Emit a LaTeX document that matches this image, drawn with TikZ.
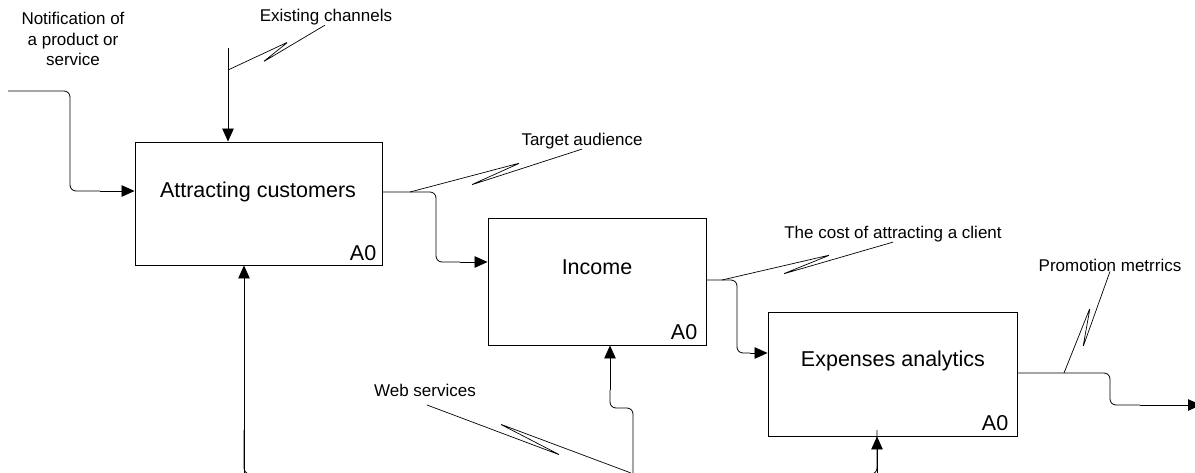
\documentclass[tikz,border=0pt]{standalone}
\usepackage{fontspec}
\setmainfont{Liberation Sans}
\usetikzlibrary{arrows.meta,calc}
\begin{document}
\begin{tikzpicture}[x=1pt,y=-1pt,
  proc/.style={draw,line width=0.9pt,inner sep=0pt},
  boxtext/.style={font=\fontsize{21.5}{26}\selectfont,inner sep=0pt},
  tag/.style={font=\fontsize{21.5}{26}\selectfont,inner sep=0pt,anchor=base east},
  lbl/.style={font=\fontsize{17}{20.5}\selectfont,inner sep=0pt,align=center},
  line/.style={draw,line width=0.8pt,rounded corners=6pt},
  arr/.style={draw,line width=0.8pt,sharp corners,-{Triangle[length=13pt,width=11.5pt]}},
  squig/.style={draw,line width=0.7pt,rounded corners=1.5pt}]
\useasboundingbox (0,0) rectangle (1195,472);
\clip (0,0) rectangle (1195,472);
% boxes
\node[proc,minimum width=247pt,minimum height=123pt] (b1) at (258.5,203.5) {};
\node[proc,minimum width=218pt,minimum height=127pt] (b2) at (597,281.5) {};
\node[proc,minimum width=249pt,minimum height=124pt] (b3) at (892.5,374) {};
\node[boxtext] (t1) at (258,192) {Attracting customers};
\node[boxtext] (t2) at (597,267) {Income};
\node[boxtext] (t3) at (893,361) {Expenses analytics};
\node[tag] (a1) at ([xshift=-6pt,yshift=5pt]b1.south east) {A0};
\node[tag] (a2) at ([xshift=-9pt,yshift=6pt]b2.south east) {A0};
\node[tag] (a3) at ([xshift=-9pt,yshift=6pt]b3.south east) {A0};
% labels
\node[lbl] (lin) at (73,39) {Notification of\\a product or\\service};
\node[lbl] (lctl) at (326,17) {Existing channels};
\node[lbl] (lta) at (582,141) {Target audience};
\node[lbl] (lcost) at (893,234) {The cost of attracting a client};
\node[lbl] (lpm) at (1110,265) {Promotion metrrics};
\node[lbl] (lweb) at (425,390) {Web services};
% input
\coordinate (in0) at (8,91);
\coordinate (in1) at (100,191);
\draw[line] (in0) -- (70,91) -- (70,191) -- (in1);
\draw[arr] (in1) -- (b1.west |- in1);
% control
\coordinate (c0) at (228,48);
\draw[arr] (c0) -- (b1.north -| c0);
% outputs
\coordinate (o1) at (460,262);
\draw[line] (b1.east |- 0,192) -- (436,192) -- (436,262) -- (o1);
\draw[arr] (o1) -- (b2.west |- o1);
\coordinate (o2) at (750,353);
\draw[line] (b2.east |- 0,280) -- (737,280) -- (737,353) -- (o2);
\draw[arr] (o2) -- (b3.west |- o2);
\coordinate (o3) at (1140,405);
\coordinate (out3) at (1201,405);
\draw[line] (b3.east |- 0,373) -- (1110,373) -- (1110,405) -- (o3);
\draw[arr] (o3) -- (out3);
% mechanisms
\coordinate (m1) at (244,474);
\coordinate (m2) at (633,474);
\coordinate (m3) at (877,474);
\draw[arr] (m1) -- (b1.south -| m1);
\draw[arr] (m3) -- (b3.south -| m3);
\draw[line] (244,430) -- (m1) -- (m3) -- (877,430);
\coordinate (m2b) at (610,390);
\draw[line] (m2) -- (633,408) -- (610,408) -- (m2b);
\draw[arr] (m2b) -- (b2.south -| m2b);
% squiggles
\coordinate (s1) at (228,70);
\draw[squig] (s1) -- (288,42) -- (263,62) -- (lctl.south -| 325,0);
\coordinate (s2) at (410,192);
\draw[squig] (s2) -- (520,163) -- (471,185) -- (lta.south);
\coordinate (s3) at (722,280);
\draw[squig] (s3) -- (830,255) -- (783,274) -- (lcost.south);
\coordinate (s4) at (1064,373);
\draw[squig] (s4) -- (1090,308) -- (1083,347) -- (lpm.south);
\coordinate (s5) at (631,473);
\draw[squig] (s5) -- (500,424) -- (560,455) -- (427,405);
\end{tikzpicture}
\end{document}
